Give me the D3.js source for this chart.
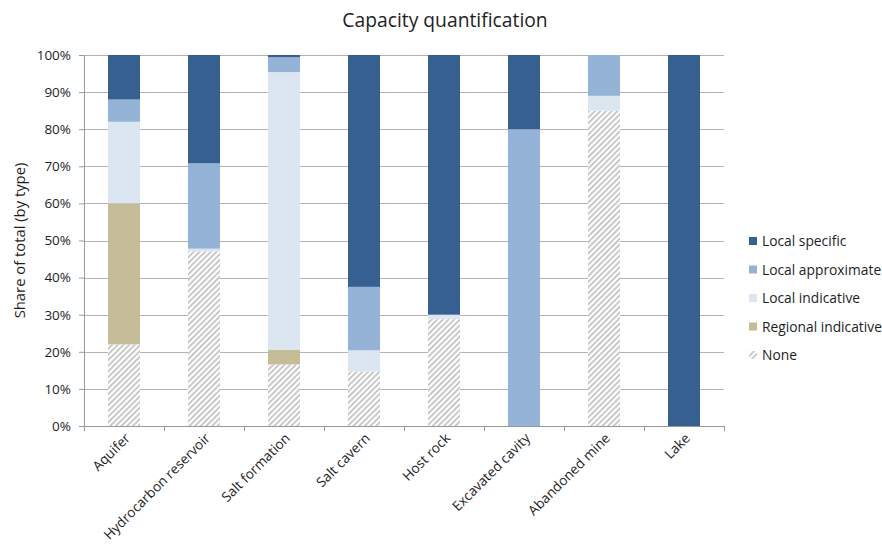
<!DOCTYPE html>
<html>
<head>
<meta charset="utf-8">
<script src="https://cdn.jsdelivr.net/npm/d3@7"></script>
<style>
  body { margin: 0; background: #fff; }
  svg text { font-family: "Open Sans", "Noto Sans", sans-serif; fill: #1e1e1e; }
</style>
</head>
<body>
<svg id="chart" width="882" height="548"></svg>
<script>
// Storage types on the x axis
const categories = ["Aquifer", "Hydrocarbon reservoir", "Salt formation", "Salt cavern",
  "Host rock", "Excavated cavity", "Abandoned mine", "Lake"];

// Quantification levels, bottom of the stack first
const seriesNames = ["None", "Regional indicative", "Local indicative", "Local approximate", "Local specific"];

// Share (%) of each level per type
const none               = [22.0, 47.1, 16.6, 14.7, 28.8, 0, 85.0, 0];
const regionalIndicative = [38.0, 0,     4.0,  0,    0,    0, 0,    0];
const localIndicative    = [22.0, 0.7,  74.8,  5.7,  1.2,  0, 4.0,  0];
const localApproximate   = [6.0, 23.0,   4.0, 17.1,  0,   80, 11.0, 0];
const localSpecific      = [12.0, 29.2,  0.6, 62.5, 70.0, 20, 0,  100];

const yTicks = [0, 10, 20, 30, 40, 50, 60, 70, 80, 90, 100];

const seriesValues = [none, regionalIndicative, localIndicative, localApproximate, localSpecific];
const colors = {
  "Local specific": "#366092",
  "Local approximate": "#95b3d7",
  "Local indicative": "#dce6f1",
  "Regional indicative": "#c4bd97"
};

const rows = categories.map((c, i) => {
  const r = { category: c };
  seriesNames.forEach((s, j) => r[s] = seriesValues[j][i]);
  return r;
});

const svg = d3.select("#chart");
const margin = { left: 84, right: 158, top: 55, bottom: 122 };
const width = 882 - margin.left - margin.right;
const height = 548 - margin.top - margin.bottom;

// Diagonal hatching for the "None" level
const defs = svg.append("defs");
const pat = defs.append("pattern")
  .attr("id", "hatch").attr("patternUnits", "userSpaceOnUse")
  .attr("width", 4).attr("height", 4)
  .attr("patternTransform", "rotate(45)");
pat.append("rect").attr("width", 4).attr("height", 4).attr("fill", "#fff");
pat.append("rect").attr("x", 0).attr("width", 1.6).attr("height", 4).attr("fill", "#bdbdbd");

const fillFor = name => name === "None" ? "url(#hatch)" : colors[name];

const g = svg.append("g").attr("transform", `translate(${margin.left},${margin.top})`);

const x = d3.scaleBand().domain(categories).range([0, width]).paddingInner(0.6).paddingOuter(0.3);
const band = width / categories.length;
const y = d3.scaleLinear().domain([0, 100]).range([height, 0]);

// Gridlines
g.append("g").selectAll("line").data(yTicks.filter(t => t > 0)).join("line")
  .attr("x1", 0).attr("x2", width)
  .attr("y1", d => Math.round(y(d)) + 0.5).attr("y2", d => Math.round(y(d)) + 0.5)
  .attr("stroke", "#b4b4b4").attr("stroke-width", 1);

// Stacked bars
const stack = d3.stack().keys(seriesNames)(rows);
g.append("g").selectAll("g").data(stack).join("g")
  .attr("fill", d => fillFor(d.key))
  .selectAll("rect").data(d => d).join("rect")
  .attr("x", d => x(d.data.category))
  .attr("width", x.bandwidth())
  .attr("y", d => y(d[1]))
  .attr("height", d => Math.max(0, y(d[0]) - y(d[1])));

// Y axis
const yAxis = g.append("g")
  .call(d3.axisLeft(y).tickValues(yTicks).tickFormat(d => d + "%").tickSize(5).tickPadding(8));
yAxis.select(".domain").attr("stroke", "#999");
yAxis.selectAll(".tick line").attr("stroke", "#999");
yAxis.selectAll("text").style("font-size", "13.5px").attr("fill", "#1e1e1e");

// X axis with ticks at band boundaries
const xAxis = g.append("g").attr("transform", `translate(0,${height})`);
xAxis.append("line").attr("x1", 0).attr("x2", width).attr("y1", 0.5).attr("y2", 0.5).attr("stroke", "#999");
xAxis.selectAll("line.tk").data(d3.range(categories.length + 1)).join("line")
  .attr("class", "tk")
  .attr("x1", i => Math.round(i * band) + 0.5).attr("x2", i => Math.round(i * band) + 0.5)
  .attr("y1", 0).attr("y2", 5).attr("stroke", "#999");
xAxis.selectAll("text").data(categories).join("text")
  .attr("text-anchor", "end")
  .attr("transform", d => `translate(${x(d) + x.bandwidth() / 2 + 7},${13}) rotate(-45)`)
  .style("font-size", "13.6px")
  .text(d => d);

// Axis title
svg.append("text")
  .attr("transform", `translate(25,${margin.top + height / 2}) rotate(-90)`)
  .attr("text-anchor", "middle")
  .style("font-size", "14.8px")
  .text("Share of total (by type)");

// Chart title
svg.append("text")
  .attr("x", 445).attr("y", 27)
  .attr("text-anchor", "middle")
  .style("font-size", "19.3px")
  .text("Capacity quantification");

// Legend, top entry is the top of the stack
const legend = svg.append("g").attr("transform", "translate(749,241)");
const legendItems = seriesNames.slice().reverse();
const li = legend.selectAll("g").data(legendItems).join("g")
  .attr("transform", (d, i) => `translate(0,${i * 28.5})`);
li.append("rect").attr("x", 0).attr("y", -4).attr("width", 8).attr("height", 8)
  .attr("fill", d => fillFor(d));
li.append("text").attr("x", 13).attr("y", 5)
  .style("font-size", "13.8px")
  .text(d => d);
</script>
</body>
</html>
